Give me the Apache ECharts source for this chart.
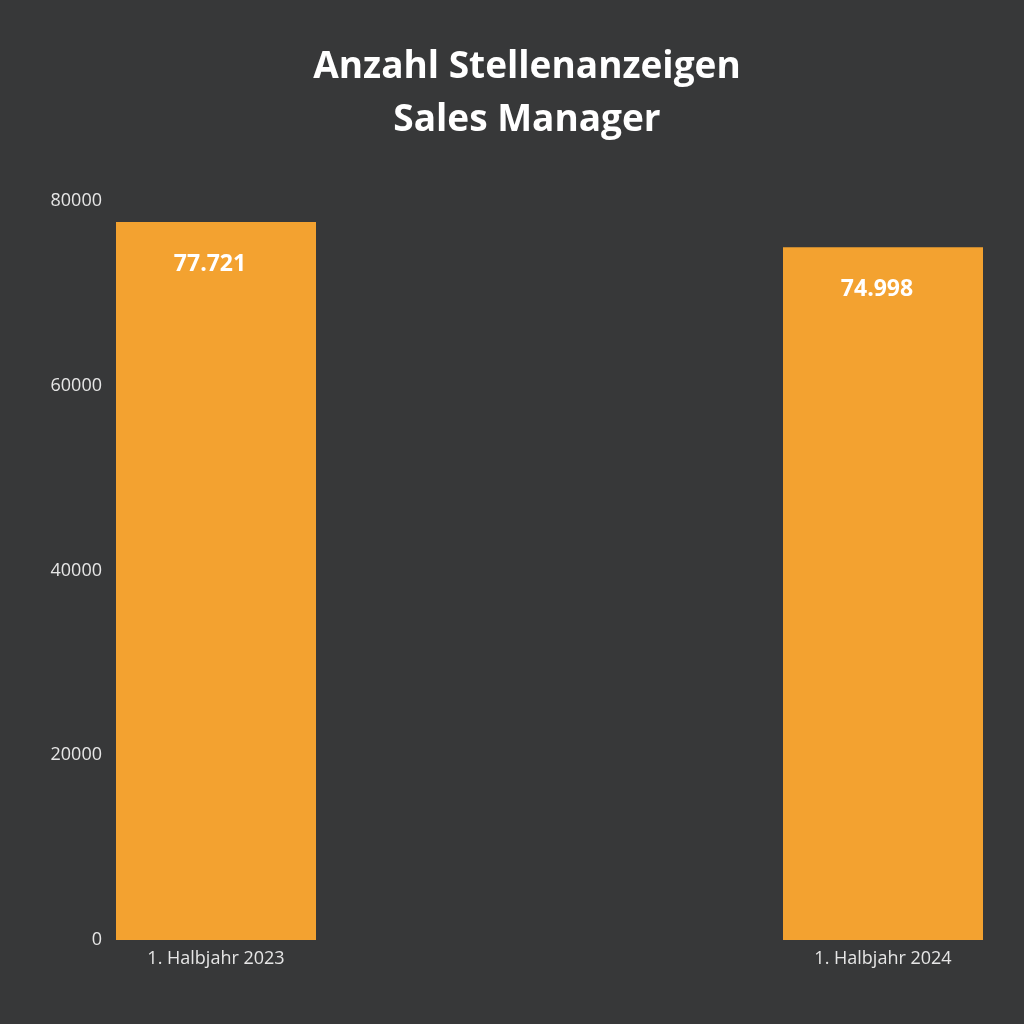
<!DOCTYPE html>
<html>
<head>
<meta charset="utf-8">
<script src="https://cdn.jsdelivr.net/npm/echarts@6/dist/echarts.min.js"></script>
<style>
html,body{margin:0;padding:0;background:#373839;}
#chart{width:1024px;height:1024px;}
</style>
</head>
<body>
<div id="chart"></div>
<script>
const categories = ['1. Halbjahr 2023', '1. Halbjahr 2024'];
const values = [77721, 74998];
const yTicks = [0, 20000, 40000, 60000, 80000];
const titleLines = ['Anzahl Stellenanzeigen', 'Sales Manager'];

function deFormat(v) {
  return String(v).replace(/\B(?=(\d{3})+(?!\d))/g, '.');
}

const chart = echarts.init(document.getElementById('chart'));
chart.setOption({
  backgroundColor: '#373839',
  animation: false,
  title: {
    text: titleLines.join('\n'),
    left: 522,
    top: 36,
    textAlign: 'center',
    textStyle: {
      color: '#ffffff',
      fontFamily: 'Open Sans',
      fontWeight: 'bold',
      fontSize: 37,
      lineHeight: 53
    }
  },
  grid: { left: 216, right: 141, top: 201, bottom: 84 },
  xAxis: {
    type: 'category',
    data: categories,
    boundaryGap: false,
    axisLine: { show: false },
    axisTick: { show: false },
    axisLabel: { color: '#e6e6e6', fontFamily: 'Open Sans', fontSize: 18, margin: 10 }
  },
  yAxis: {
    type: 'value',
    min: yTicks[0],
    max: yTicks[yTicks.length - 1],
    interval: yTicks[1] - yTicks[0],
    splitLine: { show: false },
    axisLine: { show: false },
    axisTick: { show: false },
    axisLabel: {
      color: '#e6e6e6', fontFamily: 'Open Sans', fontSize: 18, margin: 114, align: 'right',
      formatter: v => String(v)
    }
  },
  series: [{
    type: 'bar',
    data: values,
    barWidth: 200,
    clip: false,
    itemStyle: { color: '#f3a230' },
    label: {
      show: true,
      position: 'insideTop',
      distance: 30,
      offset: [-6, 1],
      color: '#ffffff',
      fontFamily: 'Open Sans',
      fontWeight: 'bold',
      fontSize: 23,
      formatter: p => deFormat(p.value)
    }
  }]
});
</script>
</body>
</html>
